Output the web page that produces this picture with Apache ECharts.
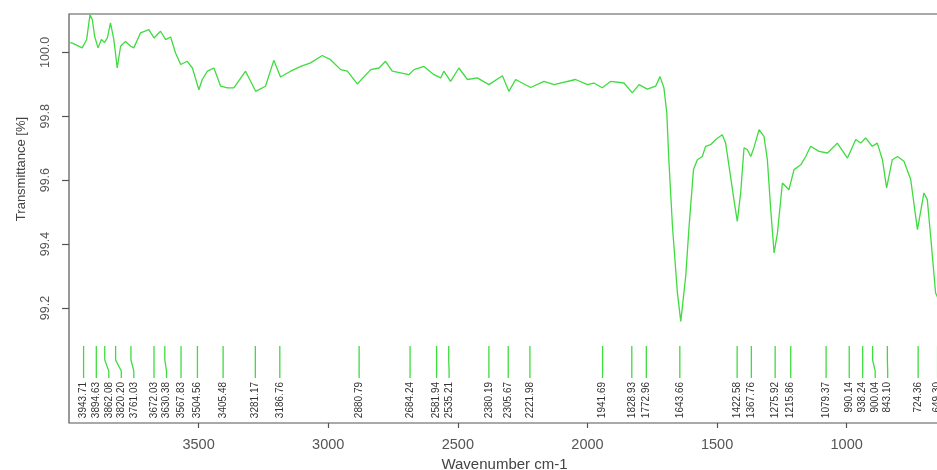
<!DOCTYPE html>
<html>
<head>
<meta charset="utf-8">
<script src="https://cdn.jsdelivr.net/npm/echarts@6/dist/echarts.min.js"></script>
<style>
html,body{margin:0;padding:0;background:#fff;}
#chart{width:937px;height:470px;}
</style>
</head>
<body>
<div id="chart"></div>
<script>
// Spectrum (wavenumber in cm-1, transmittance in %)
const wavenumbers = [
  3995, 3987, 3949, 3932, 3919, 3910, 3901, 3888, 3875, 3863,
  3852, 3840, 3827, 3814, 3801, 3782, 3762, 3750, 3724, 3692,
  3672, 3647, 3627, 3608, 3589, 3569, 3544, 3524, 3499, 3486,
  3466, 3441, 3415, 3389, 3364, 3319, 3280, 3242, 3210, 3184,
  3145, 3106, 3068, 3023, 2991, 2952, 2926, 2888, 2836, 2804,
  2779, 2753, 2721, 2689, 2669, 2631, 2592, 2566, 2554, 2528,
  2496, 2463, 2425, 2380, 2328, 2303, 2277, 2219, 2168, 2129,
  2046, 2000, 1975, 1943, 1911, 1859, 1827, 1801, 1769, 1737,
  1720, 1705, 1694, 1686, 1672, 1653, 1640, 1621, 1608, 1591,
  1576, 1557, 1544, 1525, 1505, 1480, 1467, 1448, 1435, 1422,
  1409, 1396, 1383, 1370, 1358, 1338, 1319, 1306, 1293, 1280,
  1267, 1248, 1223, 1203, 1177, 1158, 1139, 1107, 1074, 1036,
  997, 965, 946, 927, 901, 882, 862, 846, 824, 804,
  779, 753, 727, 702, 689, 676, 657, 645
];
const transmittance = [
  100.030, 100.029, 100.014, 100.040, 100.118, 100.102, 100.050, 100.014, 100.040, 100.031,
  100.045, 100.092, 100.040, 99.951, 100.019, 100.034, 100.019, 100.014, 100.061, 100.071,
  100.045, 100.066, 100.040, 100.048, 99.998, 99.962, 99.972, 99.951, 99.883, 99.915,
  99.941, 99.951, 99.894, 99.889, 99.889, 99.941, 99.878, 99.894, 99.975, 99.923,
  99.941, 99.956, 99.967, 99.990, 99.977, 99.946, 99.941, 99.901, 99.946, 99.951,
  99.972, 99.941, 99.936, 99.930, 99.946, 99.956, 99.930, 99.920, 99.941, 99.909,
  99.951, 99.915, 99.920, 99.899, 99.927, 99.878, 99.915, 99.890, 99.909, 99.899,
  99.915, 99.899, 99.904, 99.889, 99.909, 99.904, 99.873, 99.899, 99.885, 99.894,
  99.924, 99.889, 99.811, 99.664, 99.455, 99.247, 99.158, 99.299, 99.455, 99.633,
  99.664, 99.674, 99.706, 99.711, 99.727, 99.742, 99.716, 99.612, 99.539, 99.471,
  99.560, 99.701, 99.695, 99.674, 99.701, 99.758, 99.737, 99.664, 99.508, 99.372,
  99.435, 99.591, 99.570, 99.633, 99.648, 99.674, 99.706, 99.690, 99.685, 99.716,
  99.669, 99.727, 99.716, 99.732, 99.706, 99.716, 99.664, 99.576, 99.664, 99.674,
  99.659, 99.602, 99.445, 99.560, 99.539, 99.424, 99.247, 99.226
];
// Picked peaks
const peakPositions = [
  3943.71, 3894.63, 3862.08, 3820.20, 3761.03, 3672.03, 3630.38, 3567.83, 3504.56, 3405.48,
  3281.17, 3186.76, 2880.79, 2684.24, 2581.94, 2535.21, 2380.19, 2305.67, 2221.98, 1941.69,
  1828.93, 1772.96, 1643.66, 1422.58, 1367.76, 1275.92, 1215.86, 1079.37, 990.14, 938.24,
  900.04, 843.10, 724.36, 649.30
];
const peakLabels = peakPositions.map(v => v.toFixed(2));
const xTicks = [1000, 1500, 2000, 2500, 3000, 3500];
const yTicks = [99.2, 99.4, 99.6, 99.8, 100.0];
const xMin = 640, xMax = 4000, yMin = 98.84, yMax = 100.12;

const GREEN = '#3fdc3f';
const AXIS = '#555555';
const FONT = '"Liberation Sans", Arial, sans-serif';

const chart = echarts.init(document.getElementById('chart'), null, {renderer: 'canvas'});

const spectrum = wavenumbers.map((w, i) => [w, transmittance[i]]);

const option = {
  animation: false,
  backgroundColor: '#ffffff',
  grid: {left: 69, top: 14, right: -3, bottom: 47, containLabel: false, outerBoundsMode: 'none',
    show: true, borderColor: AXIS, borderWidth: 1.2, backgroundColor: 'transparent'},
  xAxis: {
    type: 'value', inverse: true, min: xMin, max: xMax,
    name: 'Wavenumber cm-1', nameLocation: 'middle', nameGap: 31,
    nameTextStyle: {fontFamily: FONT, fontSize: 15, color: '#444'},
    axisLine: {show: false},
    axisTick: {show: true, length: 5, customValues: xTicks, lineStyle: {color: AXIS, width: 1.2}},
    axisLabel: {customValues: xTicks, fontFamily: FONT, fontSize: 14.5, color: '#555', margin: 14,
      formatter: v => String(v)},
    splitLine: {show: false}
  },
  yAxis: {
    type: 'value', min: yMin, max: yMax,
    axisLine: {show: false},
    axisTick: {show: true, length: 7, customValues: yTicks, lineStyle: {color: AXIS, width: 1.2}},
    axisLabel: {customValues: yTicks, rotate: 90, fontFamily: FONT, fontSize: 12.5, color: '#555', margin: 17,
      formatter: v => Number(v).toFixed(1)},
    splitLine: {show: false}
  },
  graphic: [{
    type: 'text', x: 21, y: 169, rotation: Math.PI / 2,
    style: {text: 'Transmittance [%]', fontFamily: FONT, fontSize: 13, fill: '#444', align: 'center', verticalAlign: 'middle'}
  }],
  series: [
    {
      type: 'line', data: spectrum, showSymbol: false, symbol: 'none',
      lineStyle: {color: GREEN, width: 1.3}, clip: true, silent: true
    },
    {
      type: 'custom', coordinateSystem: 'cartesian2d', silent: true, clip: false,
      data: [[peakPositions[0], yMin]],
      encode: {x: 0, y: 1},
      renderItem: function (params, api) {
        const cs = params.coordSys;
        const bottom = cs.y + cs.height;
        const gap = 12.5;
        const xs = peakPositions.map(p => api.coord([p, yMin])[0]);
        const order = xs.map((x, i) => i).sort((a, b) => xs[a] - xs[b]);
        const lx = [];
        let prev = -Infinity;
        order.forEach(i => { const v = Math.max(xs[i], prev + gap); lx[i] = v; prev = v; });
        const children = [];
        peakPositions.forEach((p, i) => {
          children.push({
            type: 'polyline',
            shape: {points: [[xs[i], bottom - 77], [xs[i], bottom - 63], [lx[i], bottom - 52], [lx[i], bottom - 45]]},
            style: {stroke: GREEN, lineWidth: 1.3, fill: null}
          });
          children.push({
            type: 'text', x: lx[i], y: bottom - 41, rotation: Math.PI / 2,
            style: {text: peakLabels[i], fontFamily: FONT, fontSize: 10, fill: '#333', align: 'right', verticalAlign: 'middle'}
          });
        });
        return {type: 'group', children: children};
      }
    }
  ]
};
chart.setOption(option);
</script>
</body>
</html>
